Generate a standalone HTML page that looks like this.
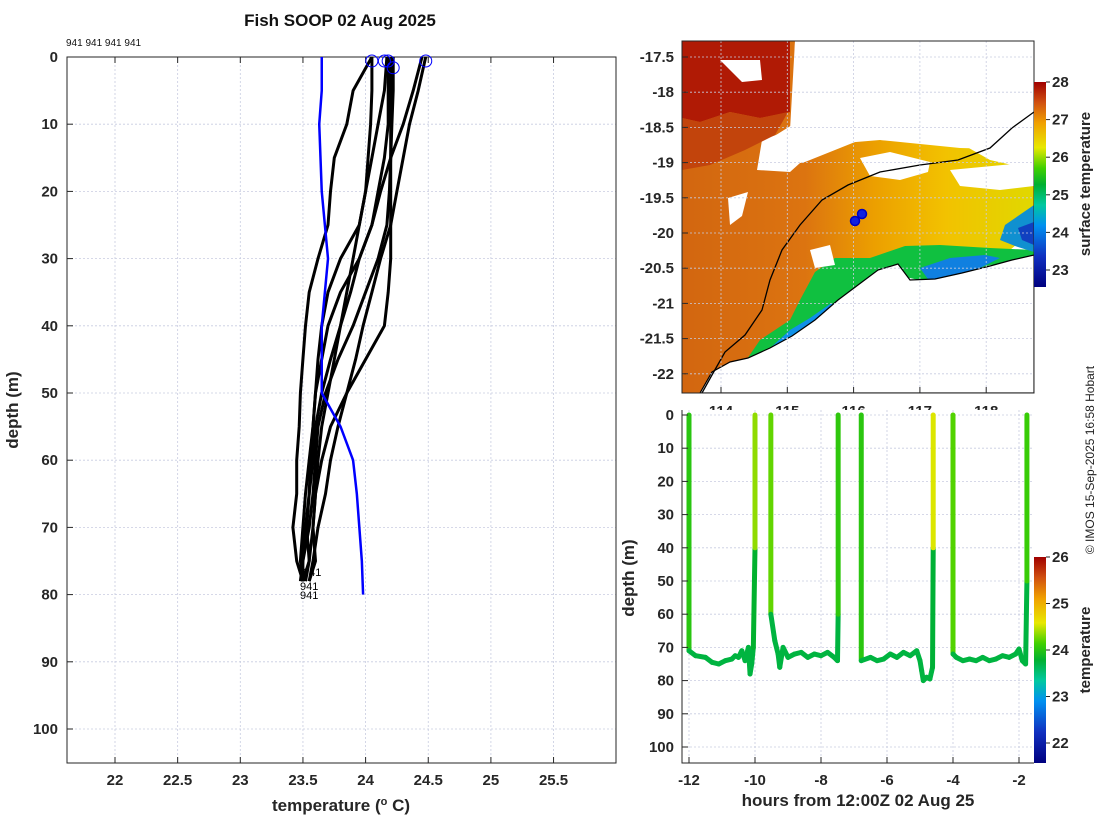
<!DOCTYPE html>
<html><head><meta charset="utf-8"><style>
body{margin:0;background:#fff;}
svg{display:block;font-family:"Liberation Sans",sans-serif;}
.t{font-weight:bold;font-size:15px;fill:#262626;}
.g{stroke:#c8cce0;stroke-width:0.8;stroke-dasharray:2,2;}
</style></head><body>
<svg id="s" width="1100" height="820" viewBox="0 0 1100 820" xmlns="http://www.w3.org/2000/svg">
<defs>
<linearGradient id="cbTop" x1="0" y1="1" x2="0" y2="0">
<stop offset="0" stop-color="#00007f"/><stop offset="0.15" stop-color="#1030c0"/><stop offset="0.3" stop-color="#0090f0"/><stop offset="0.4" stop-color="#00c8a0"/><stop offset="0.5" stop-color="#00b030"/><stop offset="0.58" stop-color="#40d000"/><stop offset="0.68" stop-color="#e8e800"/><stop offset="0.8" stop-color="#f0a000"/><stop offset="0.9" stop-color="#d05010"/><stop offset="1" stop-color="#a00000"/>
</linearGradient>
<linearGradient id="orng" x1="0" y1="0" x2="1" y2="0">
<stop offset="0" stop-color="#d26610"/><stop offset="0.35" stop-color="#dc7410"/><stop offset="0.55" stop-color="#eca000"/><stop offset="0.75" stop-color="#f2c200"/><stop offset="1" stop-color="#e0d800"/>
</linearGradient>
<clipPath id="mapclip"><rect x="682" y="41" width="352" height="352"/></clipPath>
<clipPath id="lclip"><rect x="67" y="57" width="549" height="706"/></clipPath>
</defs>
<text x="340" y="26" text-anchor="middle" style="font-weight:bold;font-size:17px" fill="#111">Fish SOOP 02 Aug 2025</text>
<text x="66" y="46" style="font-size:10px" fill="#111">941 941 941 941</text>
<g id="left"></g>
<g id="map"></g>
<g id="ts"></g>
<text transform="translate(1094,460) rotate(-90)" text-anchor="middle" style="font-size:12px" fill="#222">© IMOS 15-Sep-2025 16:58 Hobart</text>
</svg>
<script>
// ---- profile data ----
const profDepths=[0,5,10,15,20,25,30,35,40,45,50,55,60,65,70,75,78];
const profA=[24.48,24.42,24.35,24.3,24.25,24.2,24.12,24.05,23.98,23.92,23.85,23.78,23.72,23.68,23.62,23.58,23.55];
const profB=[24.45,24.38,24.3,24.2,24.12,24.05,23.95,23.88,23.8,23.75,23.7,23.65,23.62,23.6,23.58,23.55,23.5];
const profC=[24.2,24.2,24.2,24.2,24.2,24.2,24.2,24.18,24.15,24.0,23.85,23.72,23.65,23.6,23.58,23.6,23.55];
const profD=[24.17,24.15,24.1,24.05,24.0,23.95,23.9,23.85,23.8,23.72,23.65,23.6,23.58,23.55,23.52,23.5,23.48];
const profE=[24.05,23.9,23.85,23.75,23.72,23.7,23.62,23.55,23.52,23.5,23.48,23.47,23.45,23.45,23.42,23.45,23.5];
const profF=[24.05,24.05,24.04,24.02,24.0,23.95,23.8,23.7,23.65,23.62,23.6,23.58,23.55,23.52,23.5,23.48,23.5];
const profG=[24.18,24.18,24.18,24.15,24.1,24.05,23.95,23.8,23.7,23.65,23.6,23.58,23.56,23.55,23.53,23.55,23.52];
const profH=[24.22,24.22,24.21,24.2,24.19,24.17,24.1,24.0,23.9,23.78,23.68,23.62,23.6,23.58,23.55,23.5,23.5];
const blueDepths=[0,5,10,20,30,40,50,55,60,65,70,75,80];
const blueTemps=[23.65,23.65,23.63,23.65,23.7,23.65,23.65,23.8,23.9,23.93,23.95,23.97,23.98];
const circleTemps=[24.05,24.15,24.18,24.22,24.48];
const circleDepths=[0,0,0,1,0];
const xTicksL=[22,22.5,23,23.5,24,24.5,25,25.5];
const yTicksL=[0,10,20,30,40,50,60,70,80,90,100];
// ---- time series data ----
const seg1H=[-12,-12,-11.8,-11.5,-11.3,-11.1,-10.9,-10.7,-10.6,-10.5,-10.4,-10.3,-10.2,-10.15,-10.1,-10.05,-10.0,-10.0];
const seg1D=[0,71,72.5,73,74.5,75,74,73.5,72.5,73,71,74,70,78,75,70,40,0];
const seg2H=[-9.52,-9.52,-9.4,-9.3,-9.25,-9.15,-9.0,-8.8,-8.6,-8.4,-8.2,-8.0,-7.8,-7.6,-7.5,-7.48,-7.48];
const seg2D=[0,60,68,72,76,70,73,72,71.5,73,72,72.5,71.5,73,74,60,0];
const seg3H=[-6.78,-6.78,-6.5,-6.3,-6.1,-5.9,-5.7,-5.5,-5.3,-5.1,-5.0,-4.95,-4.9,-4.8,-4.7,-4.62,-4.6,-4.6];
const seg3D=[0,74,73,74,73.5,72,73,71.5,72.5,71,74,77,80,79,79.5,76,40,0];
const seg4H=[-4.0,-4.0,-3.9,-3.7,-3.5,-3.3,-3.1,-2.9,-2.7,-2.5,-2.3,-2.1,-2.0,-1.9,-1.8,-1.76,-1.76];
const seg4D=[0,72,73,74,73.5,74,73,74,73.5,72.5,73,72,70.5,74,75,50,0];
const surfTemps=[24.2,24.35,24.4,24.15,24.25,24.55,24.5,24.15];
const castHours=[-12,-10,-9.52,-7.48,-6.78,-4.6,-4.0,-1.76];
const bottomTemp=23.72;
const xTicksT=[-12,-10,-8,-6,-4,-2];
const yTicksT=[0,10,20,30,40,50,60,70,80,90,100];
const cbTopTicks=[23,24,25,26,27,28];
const cbBotTicks=[22,23,24,25,26];

const NS='http://www.w3.org/2000/svg';
function mk(tag,attrs,parent){const e=document.createElementNS(NS,tag);for(const k in attrs)e.setAttribute(k,attrs[k]);parent.appendChild(e);return e;}
const cstops=[[0,[0,0,127]],[0.15,[16,48,192]],[0.3,[0,144,240]],[0.4,[0,200,160]],[0.5,[0,176,48]],[0.58,[64,208,0]],[0.68,[232,232,0]],[0.8,[240,160,0]],[0.9,[208,80,16]],[1,[160,0,0]]];
function cmap(f){f=Math.max(0,Math.min(1,f));for(let i=1;i<cstops.length;i++){if(f<=cstops[i][0]){const a=cstops[i-1],b=cstops[i];const t=(f-a[0])/(b[0]-a[0]);return 'rgb('+a[1].map((v,j)=>Math.round(v+(b[1][j]-v)*t)).join(',')+')';}}return 'rgb(160,0,0)';}

// ===== LEFT PLOT =====
const L=document.getElementById('left');
const lx=t=>115+(t-22)*125.3, ly=d=>57+d*6.72;
xTicksL.forEach(t=>{const g=mk('line',{x1:lx(t),x2:lx(t),y1:57,y2:763,class:'g'},L);});
yTicksL.forEach(d=>{const g=mk('line',{x1:67,x2:616,y1:ly(d),y2:ly(d),class:'g'},L);});
const lb=mk('rect',{x:67,y:57,width:549,height:706,fill:'none',stroke:'#262626','stroke-width':1},L);

xTicksL.forEach(t=>{mk('line',{x1:lx(t),x2:lx(t),y1:763,y2:757,stroke:'#262626'},L);mk('line',{x1:lx(t),x2:lx(t),y1:57,y2:63,stroke:'#262626'},L);
 const e=mk('text',{x:lx(t),y:785,'text-anchor':'middle',class:'t'},L);e.textContent=t;});
yTicksL.forEach(d=>{mk('line',{x1:67,x2:73,y1:ly(d),y2:ly(d),stroke:'#262626'},L);
 const e=mk('text',{x:58,y:ly(d)+5,'text-anchor':'end',class:'t'},L);e.textContent=d;});
let e=mk('text',{x:341,y:811,'text-anchor':'middle',class:'t',style:'font-size:17px'},L);e.innerHTML='temperature (<tspan dy="-6" font-size="11">o</tspan><tspan dy="6"> C)</tspan>';

e=mk('text',{x:0,y:0,transform:'translate(18,410) rotate(-90)','text-anchor':'middle',class:'t',style:'font-size:17px'},L);e.textContent='depth (m)';

const lg=mk('g',{'clip-path':'url(#lclip)'},L);
[profA,profB,profC,profD,profE,profF,profG,profH].forEach((p,i)=>{
 const pts=p.map((t,j)=>lx(t).toFixed(1)+','+ly(profDepths[j]).toFixed(1)).join(' ');
 const pl=mk('polyline',{points:pts,fill:'none',stroke:'#000','stroke-width':3,'stroke-linejoin':'round'},lg);
 });
const bl=mk('polyline',{points:blueTemps.map((t,j)=>lx(t)+','+ly(blueDepths[j])).join(' '),fill:'none',stroke:'#0000ff','stroke-width':2.5},lg);

circleTemps.forEach((t,i)=>{const c=mk('circle',{cx:lx(t),cy:ly(circleDepths[i])+4,r:6,fill:'none',stroke:'#0000ff','stroke-width':1},L);
 });
[[303,576],[300,590],[300,599]].forEach(p=>{const t=mk('text',{x:p[0],y:p[1],style:'font-size:11px',fill:'#000'},L);t.textContent='941';});

// ===== MAP =====
const M=document.getElementById('map');
const mlat=[-17.5,-18,-18.5,-19,-19.5,-20,-20.5,-21,-21.5,-22];
const mlon=[114,115,116,117,118];
const myy=l=>57+(-17.5-l)*70.4, mxx=l=>721+(l-114)*66.3;
const mg=mk('g',{'clip-path':'url(#mapclip)'},M);
function poly(pts,fill,name,extra){const p=mk('polygon',Object.assign({points:pts,fill:fill},extra||{}),mg);return p;}
poly('682,41 795,41 790,130 762,140 757,170 790,172 820,145 880,140 960,148 1034,150 1034,230 1010,250 980,255 950,260 920,265 880,280 850,300 830,320 800,340 780,355 760,365 740,380 730,393 682,393','url(#orng)','sst-field');
poly('682,41 790,41 790,112 760,118 730,112 700,122 682,118','#b01a05','warm-water-region');
poly('682,118 700,122 730,112 760,118 788,112 775,135 745,150 710,165 682,170','#c2440c','warm-water-region-2');
poly('800,300 815,272 835,258 870,258 905,246 940,245 990,248 1034,250 1034,262 990,265 960,275 940,285 910,278 880,292 850,302 830,325 800,348 770,358 745,362 760,340 790,320','#10c040','coastal-green-band');
poly('790,330 810,318 830,304 846,302 835,328 805,345 775,354 768,350','#1090e8','coastal-blue-band');
poly('920,268 950,258 985,255 1000,258 980,268 950,280 930,282','#1080e0','coastal-blue-band-east');
poly('1005,225 1034,205 1034,252 1015,246 1000,240','#1090d0','offshore-cool-patch');
poly('1018,228 1034,222 1034,245 1022,240','#1040c0','offshore-cool-patch-2');
poly('795,41 1034,41 1034,170 990,160 960,143 920,142 880,140 860,140 835,150 805,162 775,168 768,140 792,125','#fff','cloud-mask');
poly('860,158 890,152 930,162 928,172 900,180 870,176','#fff','cloud-mask-2');
poly('950,170 1034,162 1034,186 1000,190 960,186','#fff','cloud-mask-3');
poly('728,198 748,192 742,216 730,225','#fff','cloud-mask-4');
poly('720,60 760,60 762,80 742,82','#fff','cloud-mask-5');
poly('810,250 830,245 835,265 815,268','#fff','cloud-mask-6');
poly('700,393 712,372 730,362 748,358 770,348 792,336 815,320 838,300 858,285 878,270 898,264 910,280 935,279 962,273 990,266 1012,260 1034,255 1034,393','#fff','land',{stroke:'#000','stroke-width':1.2});
const shelf=mk('polyline',{points:'702,393 712,375 725,352 745,335 762,310 770,280 782,250 800,225 822,200 848,185 880,172 920,165 958,160 990,148 1012,128 1034,112',fill:'none',stroke:'#000','stroke-width':1.3},mg);

mlat.forEach(l=>{const g=mk('line',{x1:682,x2:1034,y1:myy(l),y2:myy(l),class:'g'},M);
 mk('line',{x1:682,x2:688,y1:myy(l),y2:myy(l),stroke:'#262626'},M);
 const t=mk('text',{x:674,y:myy(l)+5,'text-anchor':'end',class:'t'},M);t.textContent=l;});
mlon.forEach(l=>{const g=mk('line',{x1:mxx(l),x2:mxx(l),y1:41,y2:393,class:'g'},M);
 mk('line',{x1:mxx(l),x2:mxx(l),y1:393,y2:387,stroke:'#262626'},M);
 const t=mk('text',{x:mxx(l),y:416,'text-anchor':'middle',class:'t'},M);t.textContent=l;});
[[855,221],[862,214]].forEach(p=>{const c=mk('circle',{cx:p[0],cy:p[1],r:4.5,fill:'#1020e0',stroke:'#0000c0','stroke-width':1.5},M);});
const mb=mk('rect',{x:682,y:41,width:352,height:352,fill:'none',stroke:'#262626'},M);
const cb1=mk('rect',{x:1034,y:82,width:12,height:205,fill:'url(#cbTop)'},M);
const cy1=v=>82+(28-v)*37.6;
cbTopTicks.forEach(v=>{mk('line',{x1:1046,x2:1050,y1:cy1(v),y2:cy1(v),stroke:'#262626'},M);const t=mk('text',{x:1052,y:cy1(v)+5,class:'t'},M);t.textContent=v;});
e=mk('text',{x:0,y:0,transform:'translate(1090,184) rotate(-90)','text-anchor':'middle',class:'t'},M);e.textContent='surface temperature';

// ===== TIME SERIES =====
const T=document.getElementById('ts');
const bg=mk('rect',{x:676,y:410,width:424,height:410,fill:'#fff'},T);
const tx=h=>689+(h+12)*33, ty=d=>415+d*3.32;
xTicksT.forEach(h=>{const g=mk('line',{x1:tx(h),x2:tx(h),y1:410,y2:763,class:'g'},T);});
yTicksT.forEach(d=>{const g=mk('line',{x1:682,x2:1034,y1:ty(d),y2:ty(d),class:'g'},T);});
const tmin=21.57,tmax=26;
const tcol=v=>cmap((v-tmin)/(tmax-tmin));
[[seg1H,seg1D],[seg2H,seg2D],[seg3H,seg3D],[seg4H,seg4D]].forEach((s,si)=>{
 const H=s[0],D=s[1];
 for(let i=0;i<H.length-1;i++){
  let ci=0,best=99;castHours.forEach((c,k)=>{if(Math.abs(c-H[i])<best){best=Math.abs(c-H[i]);ci=k;}});
  const dm=(D[i]+D[i+1])/2;const f=Math.max(0,Math.min(1,(dm-20)/40));
  const temp=surfTemps[ci]*(1-f)+bottomTemp*f;
  const ln=mk('line',{x1:tx(H[i]),y1:ty(D[i]),x2:tx(H[i+1]),y2:ty(D[i+1]),stroke:tcol(temp),'stroke-width':5,'stroke-linecap':'round'},T);
  
 }});
const tb=mk('polyline',{points:'682,410 682,763 1034,763',fill:'none',stroke:'#262626'},T);
xTicksT.forEach(h=>{mk('line',{x1:tx(h),x2:tx(h),y1:763,y2:757,stroke:'#262626'},T);const t=mk('text',{x:tx(h),y:785,'text-anchor':'middle',class:'t'},T);t.textContent=h;});
yTicksT.forEach(d=>{mk('line',{x1:682,x2:688,y1:ty(d),y2:ty(d),stroke:'#262626'},T);const t=mk('text',{x:674,y:ty(d)+5,'text-anchor':'end',class:'t'},T);t.textContent=d;});
e=mk('text',{x:858,y:806,'text-anchor':'middle',class:'t',style:'font-size:17px'},T);e.textContent='hours from 12:00Z 02 Aug 25';
e=mk('text',{x:0,y:0,transform:'translate(634,578) rotate(-90)','text-anchor':'middle',class:'t',style:'font-size:17px'},T);e.textContent='depth (m)';
const cb2=mk('rect',{x:1034,y:557,width:12,height:206,fill:'url(#cbTop)'},T);
const cy2=v=>557+(26-v)*46.5;
cbBotTicks.forEach(v=>{mk('line',{x1:1046,x2:1050,y1:cy2(v),y2:cy2(v),stroke:'#262626'},T);const t=mk('text',{x:1052,y:cy2(v)+5,class:'t'},T);t.textContent=v;});
e=mk('text',{x:0,y:0,transform:'translate(1090,650) rotate(-90)','text-anchor':'middle',class:'t'},T);e.textContent='temperature';
</script>
</body></html>
